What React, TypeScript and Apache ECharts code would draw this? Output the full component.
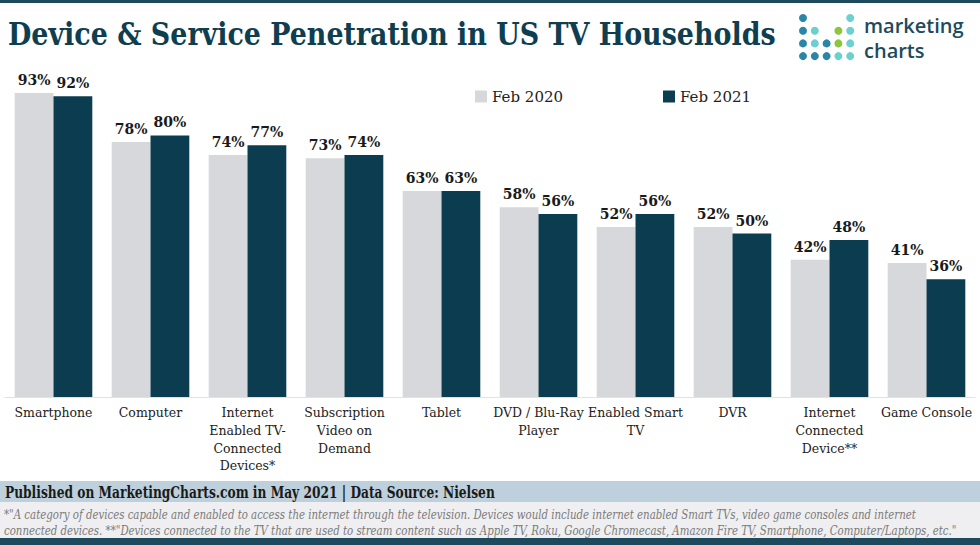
import React, { useEffect, useRef } from "react";
import * as echarts from "echarts";

const categories = [
  "Smartphone",
  "Computer",
  "Internet\nEnabled TV-\nConnected\nDevices*",
  "Subscription\nVideo on\nDemand",
  "Tablet",
  "DVD / Blu-Ray\nPlayer",
  "Enabled Smart\nTV",
  "DVR",
  "Internet\nConnected\nDevice**",
  "Game Console",
];
const feb2020 = [93, 78, 74, 73, 63, 58, 52, 52, 42, 41];
const feb2021 = [92, 80, 77, 74, 63, 56, 56, 50, 48, 36];
const seriesNames = ["Feb 2020", "Feb 2021"];

const TITLE = "Device & Service Penetration in US TV Households";
const SOURCE = "Published on MarketingCharts.com in May 2021 | Data Source: Nielsen";
const NOTE_1 =
  '*"A category of devices capable and enabled to access the internet through the television. Devices would include internet enabled Smart TVs, video game consoles and internet';
const NOTE_2 =
  'connected devices. **"Devices connected to the TV that are used to stream content such as Apple TV, Roku, Google Chromecast, Amazon Fire TV, Smartphone, Computer/Laptops, etc."';

const DARK = "#0b3c4f";
const GRAY = "#d6d8db";
const BRAND = "#1d4a5c";
const SLAB = '"DejaVu Serif", serif';
const SLAB_NARROW = '"DejaVu Serif Condensed", "DejaVu Serif", serif';

// logo dot grid: one colour per cell, null for empty cells
const B = "#2a86a8";
const T = "#6ccfd0";
const G = "#8cc63f";
const logoDots: (string | null)[][] = [
  [B, null, null, null, T],
  [B, T, null, G, T],
  [B, T, B, G, T],
  [B, B, B, T, T],
];

function logoGraphics() {
  const els: any[] = [];
  logoDots.forEach((row, r) =>
    row.forEach((c, k) => {
      if (!c) return;
      els.push({
        type: "circle",
        shape: { cx: 803 + k * 11.8, cy: 18 + r * 12.7, r: 4 },
        style: { fill: c },
      });
    })
  );
  ["marketing", "charts"].forEach((word, i) =>
    els.push({
      type: "text",
      x: 864,
      y: 25 + i * 25,
      style: {
        text: word,
        font: '600 20px "Open Sans", sans-serif',
        fill: BRAND,
        textVerticalAlign: "middle",
      },
    })
  );
  return els;
}

// text squeezed horizontally so it keeps its height at the needed width
function squeezed(text: string, x: number, y: number, font: string, fill: string, sx: number) {
  return {
    type: "text",
    x,
    y,
    scaleX: sx,
    style: { text, font, fill, textVerticalAlign: "middle" },
  };
}

export default function App() {
  const ref = useRef<HTMLDivElement>(null);
  useEffect(() => {
    if (!ref.current) return;
    const chart = echarts.init(ref.current, undefined, { renderer: "svg" });
    const labelStyle = {
      show: true,
      position: "top" as const,
      distance: 6,
      formatter: "{c}%",
      fontFamily: SLAB,
      fontWeight: "bold" as const,
      fontSize: 14,
      color: "#1a1a1a",
    };
    chart.setOption({
      animation: false,
      backgroundColor: "#ffffff",
      grid: { left: 5, right: 5, top: 70, bottom: 148, containLabel: false },
      legend: {
        data: seriesNames,
        top: 84,
        left: 470,
        itemWidth: 12,
        itemHeight: 12,
        itemGap: 100,
        icon: "rect",
        textStyle: { fontFamily: SLAB, fontSize: 15, color: "#222" },
      },
      xAxis: {
        type: "category",
        data: categories,
        axisLine: { lineStyle: { color: "#e2e2e2", width: 1 } },
        axisTick: { show: false },
        axisLabel: {
          interval: 0,
          margin: 7,
          fontFamily: SLAB,
          fontSize: 12.5,
          lineHeight: 17.7,
          color: "#222",
        },
      },
      yAxis: {
        type: "value",
        min: 0,
        max: 100,
        show: false,
        splitLine: { show: false },
      },
      series: [
        {
          name: seriesNames[0],
          type: "bar",
          data: feb2020,
          barGap: "0%",
          barCategoryGap: "20%",
          itemStyle: { color: GRAY },
          label: labelStyle,
        },
        {
          name: seriesNames[1],
          type: "bar",
          data: feb2021,
          itemStyle: { color: DARK },
          label: labelStyle,
        },
      ],
      graphic: [
        { type: "rect", shape: { x: 0, y: 0, width: 980, height: 3 }, style: { fill: BRAND } },
        squeezed(TITLE, 8, 34, "bold 31px " + SLAB_NARROW, "#0e3e50", 0.965),
        ...logoGraphics(),
        { type: "rect", shape: { x: 0, y: 481, width: 980, height: 21 }, style: { fill: "#bdd0db" } },
        { type: "rect", shape: { x: 0, y: 502, width: 980, height: 36 }, style: { fill: "#efeff1" } },
        { type: "rect", shape: { x: 0, y: 538, width: 980, height: 7 }, style: { fill: BRAND } },
        squeezed(SOURCE, 5, 492, "bold 16px " + SLAB_NARROW, "#1a1a1a", 0.85),
        squeezed(NOTE_1, 4, 515, "italic 12px " + SLAB_NARROW, "#7a7a7a", 0.945),
        squeezed(NOTE_2, 4, 531, "italic 12px " + SLAB_NARROW, "#7a7a7a", 0.945),
      ],
    });
    return () => chart.dispose();
  }, []);
  return <div ref={ref} style={{ width: 980, height: 545, position: "absolute", left: 0, top: 0 }} />;
}
